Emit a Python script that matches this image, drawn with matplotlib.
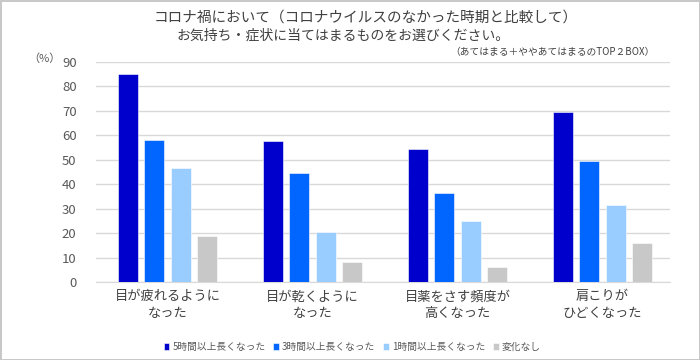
import matplotlib.pyplot as plt
import numpy as np

plt.rcParams['font.family'] = ['Noto Sans CJK JP', 'DejaVu Sans']

categories = ['目が疲れるように\nなった', '目が乾くように\nなった', '目薬をさす頻度が\n高くなった', '肩こりが\nひどくなった']
series_names = ['5時間以上長くなった', '3時間以上長くなった', '1時間以上長くなった', '変化なし']
over5h = [85, 57.5, 54.5, 69.5]
over3h = [58, 44.5, 36.3, 49.5]
over1h = [46.5, 20.5, 25, 31.5]
no_change = [19, 8, 6, 16]
yticks = [0, 10, 20, 30, 40, 50, 60, 70, 80, 90]

colors = ['#0000CC', '#0066FF', '#99CCFF', '#C8C8C8']
text_gray = '#595959'

fig = plt.figure(figsize=(7, 3.6), dpi=100)
fig.patch.set_edgecolor('#C8C8C8')
fig.patch.set_linewidth(2)
ax = fig.add_axes([96 / 700, 78 / 360, 574 / 700, 220 / 360])

x = np.arange(len(categories))
width = 0.138
step = 0.183
all_series = [over5h, over3h, over1h, no_change]
for i, vals in enumerate(all_series):
    ax.bar(x + (i - 1.5) * step, vals, width, color=colors[i], label=series_names[i],
           edgecolor='white', linewidth=0.4, zorder=3)

ax.set_ylim(0, 90)
ax.set_xlim(-0.493, 3.466)
ax.set_yticks(yticks)
ax.yaxis.grid(True, color='#D9D9D9', linewidth=1, zorder=0)
ax.set_axisbelow(True)
for s in ['top', 'right', 'left']:
    ax.spines[s].set_visible(False)
ax.spines['bottom'].set_color('#D9D9D9')
ax.tick_params(axis='y', length=0, pad=14, labelsize=9.5, labelcolor=text_gray)
ax.tick_params(axis='x', length=0, pad=6, labelsize=9.5, labelcolor='#404040')
ax.set_xticks(x)
ax.set_xticklabels(categories, linespacing=1.4)

fig.text(44 / 700, 1 - 59 / 360, '（%）', ha='center', va='center', fontsize=8, color=text_gray)

# title
fig.text(366 / 700, 1 - 18 / 360, 'コロナ禍において（コロナウイルスのなかった時期と比較して）',
         ha='center', va='center', fontsize=10.5, color='#404040')
fig.text(343 / 700, 1 - 36 / 360, 'お気持ち・症状に当てはまるものをお選びください。',
         ha='center', va='center', fontsize=10, color='#404040')
fig.text(655 / 700, 1 - 52 / 360, '（あてはまる＋ややあてはまるのTOP２BOX）',
         ha='right', va='center', fontsize=7, color='#404040')

leg = fig.legend(loc='center', bbox_to_anchor=(352 / 700, 1 - 347 / 360), ncol=4, frameon=False,
                 fontsize=7, handlelength=0.6, handleheight=0.6, handletextpad=0.3, columnspacing=0.8)
for t in leg.get_texts():
    t.set_color(text_gray)

fig.savefig('out.png', dpi=100, edgecolor=fig.get_edgecolor())
